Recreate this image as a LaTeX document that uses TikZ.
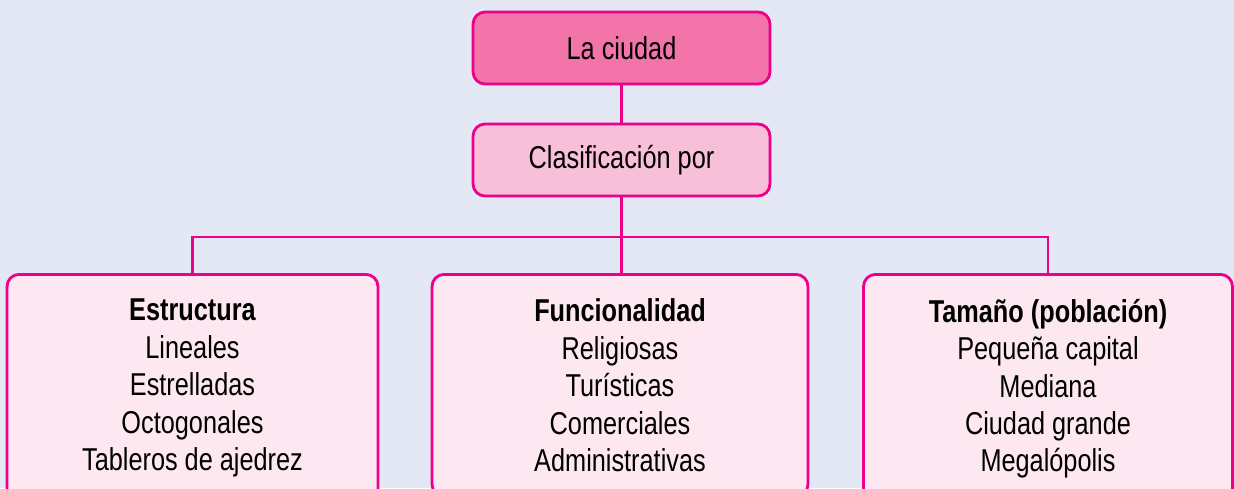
\documentclass[tikz,border=0pt]{standalone}
\usepackage{fontspec}
\setmainfont{Liberation Sans}[FakeStretch=0.8]
\definecolor{bgblue}{HTML}{E4E8F4}
\definecolor{linepink}{HTML}{EC008C}
\definecolor{cityfill}{HTML}{F274A9}
\definecolor{classfill}{HTML}{F8BFD9}
\definecolor{typefill}{HTML}{FDE8F1}

\begin{document}
\begin{tikzpicture}[x=0.02cm, y=-0.02cm,
    box/.style={draw=linepink, line width=1.6pt, rounded corners=0.24cm, align=center, font=\fontsize{18}{21.3}\selectfont},
    titlebox/.style={box, minimum width=5.94cm, minimum height=1.44cm, inner sep=0pt},
    typebox/.style={box, fill=typefill, anchor=north, inner xsep=0pt, inner ysep=14pt},
    link/.style={draw=linepink, line width=1.4pt}]
                \fill[bgblue] (0,0) rectangle (1234,488);
                \useasboundingbox (0,0) rectangle (1234,488);
                \clip (0,0) rectangle (1234,488);
                \node[titlebox, fill=cityfill] (city) at (621.5,48) {La ciudad};
                \node[titlebox, fill=classfill] (class) at (621.5,160) {Clasificación por};
                \coordinate (split) at (621.5,237);
                \node[typebox, minimum width=7.42cm] (estructura) at (192.5,273)
                    {\textbf{Estructura}\\Lineales\\Estrelladas\\Octogonales\\Tableros de ajedrez};
                \node[typebox, minimum width=7.52cm] (funcion) at (620,273)
                    {\textbf{Funcionalidad}\\Religiosas\\Turísticas\\Comerciales\\Administrativas};
                \node[typebox, minimum width=7.38cm] (tamano) at (1048,273)
                    {\textbf{Tamaño (población)}\\Pequeña capital\\Mediana\\Ciudad grande\\Megalópolis};
                \draw[link] (city) -- (class);
                \draw[link] (class) -- (split);
                \draw[link] (split) -| (estructura.north);
                \draw[link] (split) -| (tamano.north);
                \draw[link] (split) -- (split |- funcion.north);
\end{tikzpicture}
\end{document}
